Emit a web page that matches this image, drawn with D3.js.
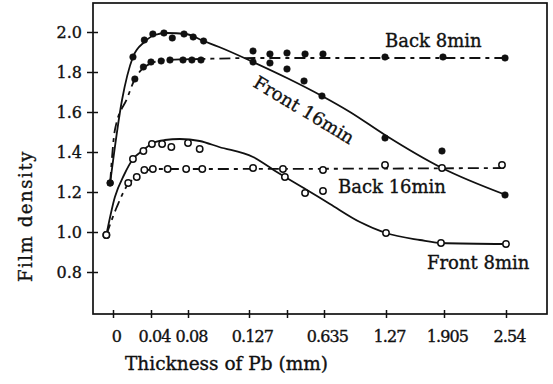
<!DOCTYPE html>
<html>
<head>
<meta charset="utf-8">
<script src="https://cdn.jsdelivr.net/npm/d3@7"></script>
<style>
  body { margin: 0; background: #fff; }
  svg text { font-family: "DejaVu Serif", serif; fill: #111; stroke: #111; stroke-width: 0.35px; }
</style>
</head>
<body>
<svg id="chart" width="553" height="384"></svg>
<script>
// x axis is not linear: each tick gets its own slot
const xTicks = [0, 0.04, 0.08, 0.127, 0.381, 0.635, 1.27, 1.905, 2.54];
const xTickLabels = ['0', '0.04', '0.08', '0.127', '', '0.635', '1.27', '1.905', '2.54'];
const yTicks = [0.8, 1.0, 1.2, 1.4, 1.6, 1.8, 2.0];

// measured points [thickness mm, density]
const front16 = [[-0.003, 1.245], [0.021, 1.875], [0.033, 1.96], [0.042, 1.99], [0.054, 1.995],
  [0.063, 1.97], [0.0757, 1.99], [0.084, 1.975], [0.092, 1.955], [0.154, 1.85], [0.267, 1.845],
  [0.381, 1.815], [0.498, 1.755], [0.621, 1.68], [1.26, 1.47], [1.883, 1.405], [2.53, 1.185]];
const back8 = [[-0.003, 1.245], [0.023, 1.765], [0.032, 1.825], [0.04, 1.85], [0.051, 1.855],
  [0.0605, 1.86], [0.0746, 1.86], [0.083, 1.86], [0.09, 1.86], [0.154, 1.905], [0.267, 1.89],
  [0.381, 1.895], [0.505, 1.89], [0.628, 1.89], [1.26, 1.875], [1.894, 1.875], [2.53, 1.87]];
const front8 = [[-0.007, 0.985], [0.021, 1.365], [0.032, 1.405], [0.041, 1.44], [0.052, 1.44],
  [0.062, 1.425], [0.08, 1.445], [0.089, 1.415], [0.367, 1.275], [0.505, 1.195], [0.628, 1.205],
  [1.27, 0.995], [1.872, 0.945], [2.54, 0.94]];
const back16 = [[-0.007, 0.985], [0.016, 1.245], [0.025, 1.275], [0.033, 1.31], [0.042, 1.315],
  [0.058, 1.315], [0.078, 1.315], [0.091, 1.315], [0.154, 1.32], [0.354, 1.315], [0.628, 1.31],
  [1.26, 1.335], [1.883, 1.32], [2.499, 1.335]];

// hand-drawn fitted curves
const front16Curve = [[-0.003, 1.245], [0.0095, 1.66], [0.021, 1.875], [0.033, 1.95], [0.044, 1.985],
  [0.057, 1.995], [0.078, 1.99], [0.092, 1.955], [0.104, 1.925], [0.154, 1.85], [0.381, 1.77],
  [0.621, 1.68], [0.901, 1.6], [1.26, 1.485], [1.883, 1.32], [2.54, 1.185]];
const back8Curve = [[-0.003, 1.245], [0.002, 1.51], [0.015, 1.67], [0.023, 1.765], [0.032, 1.82],
  [0.041, 1.845], [0.055, 1.86], [0.089, 1.865], [0.2, 1.87], [2.53, 1.87]];
const front8Curve = [[-0.007, 0.985], [0.002, 1.175], [0.0116, 1.285], [0.021, 1.365], [0.032, 1.41],
  [0.042, 1.445], [0.055, 1.46], [0.071, 1.465], [0.089, 1.455], [0.104, 1.425], [0.154, 1.375],
  [0.313, 1.3], [0.518, 1.21], [0.696, 1.14], [1.003, 1.05], [1.27, 0.995], [1.642, 0.96],
  [1.872, 0.945], [2.54, 0.94]];
const back16Curve = [[-0.007, 0.985], [0.004, 1.125], [0.016, 1.24], [0.026, 1.275], [0.034, 1.305],
  [0.044, 1.315], [0.089, 1.315], [2.53, 1.32]];

const seriesLabels = [
  { text: 'Back 8min', at: [1.26, 1.925], rot: 0 },
  { text: 'Front 16min', at: [0.147, 1.73], rot: 31 },
  { text: 'Back 16min', at: [0.778, 1.195], rot: 0 },
  { text: 'Front 8min', at: [1.719, 0.815], rot: 0 }
];

const frame = { left: 93, top: 3, right: 547, bottom: 314 };

const x = d3.scaleLinear()
  .domain(xTicks)
  .range([113, 151, 188, 249, 287, 324, 386, 444, 506]);
const y = d3.scaleLinear()
  .domain([0.8, 2.0])
  .range([272, 32]);

const svg = d3.select('#chart');

svg.append('rect')
  .attr('x', frame.left)
  .attr('y', frame.top)
  .attr('width', frame.right - frame.left)
  .attr('height', frame.bottom - frame.top)
  .attr('fill', 'none')
  .attr('stroke', '#111')
  .attr('stroke-width', 1.7);

// axes, ticks cross the frame line
const yAxis = svg.append('g')
  .attr('transform', `translate(${frame.left},0)`)
  .call(d3.axisLeft(y).tickValues(yTicks).tickFormat(d3.format('.1f')).tickSize(6).tickPadding(5));
yAxis.select('.domain').remove();
yAxis.selectAll('.tick line').attr('x1', 5).attr('stroke', '#111').attr('stroke-width', 1.5);
yAxis.selectAll('.tick text').style('font-size', '16px').style('font-family', '"DejaVu Serif", serif');

const xAxis = svg.append('g')
  .attr('transform', `translate(0,${frame.bottom})`)
  .call(d3.axisBottom(x).tickValues(xTicks).tickFormat((d, i) => xTickLabels[i]).tickSize(4).tickPadding(12.5));
xAxis.select('.domain').remove();
xAxis.selectAll('.tick line').attr('y1', -4).attr('stroke', '#111').attr('stroke-width', 1.5);
xAxis.selectAll('.tick text')
  .attr('dx', 3)
  .style('font-size', '16px')
  .style('letter-spacing', '-0.9px')
  .style('font-family', '"DejaVu Serif", serif');

svg.append('text')
  .attr('x', 125)
  .attr('y', 370)
  .style('font-size', '18.5px')
  .text('Thickness of Pb (mm)');

svg.append('text')
  .attr('transform', 'translate(32,216) rotate(-90)')
  .attr('text-anchor', 'middle')
  .style('font-size', '18px')
  .style('letter-spacing', '1.6px')
  .text('Film density');

// curves
const line = d3.line()
  .x(d => x(d[0]))
  .y(d => y(d[1]))
  .curve(d3.curveMonotoneX);

const curves = [
  { data: front16Curve, dash: null },
  { data: back8Curve, dash: '11,5,4,5' },
  { data: front8Curve, dash: null },
  { data: back16Curve, dash: '11,5,4,5' }
];
svg.append('g')
  .selectAll('path')
  .data(curves)
  .enter()
  .append('path')
  .attr('d', d => line(d.data))
  .attr('fill', 'none')
  .attr('stroke', '#111')
  .attr('stroke-width', 1.8)
  .attr('stroke-dasharray', d => d.dash);

// markers
const markerSets = [
  { data: front16, open: false },
  { data: back8, open: false },
  { data: front8, open: true },
  { data: back16, open: true }
];
markerSets.forEach(set => {
  svg.append('g')
    .selectAll('circle')
    .data(set.data)
    .enter()
    .append('circle')
    .attr('cx', d => x(d[0]))
    .attr('cy', d => y(d[1]))
    .attr('r', set.open ? 3.2 : 3.3)
    .attr('fill', set.open ? '#fff' : '#111')
    .attr('stroke', '#111')
    .attr('stroke-width', set.open ? 1.5 : 0.5);
});

svg.append('g')
  .selectAll('text')
  .data(seriesLabels)
  .enter()
  .append('text')
  .attr('transform', d => `translate(${x(d.at[0])},${y(d.at[1])}) rotate(${d.rot})`)
  .style('font-size', '18px')
  .text(d => d.text);
</script>
</body>
</html>
